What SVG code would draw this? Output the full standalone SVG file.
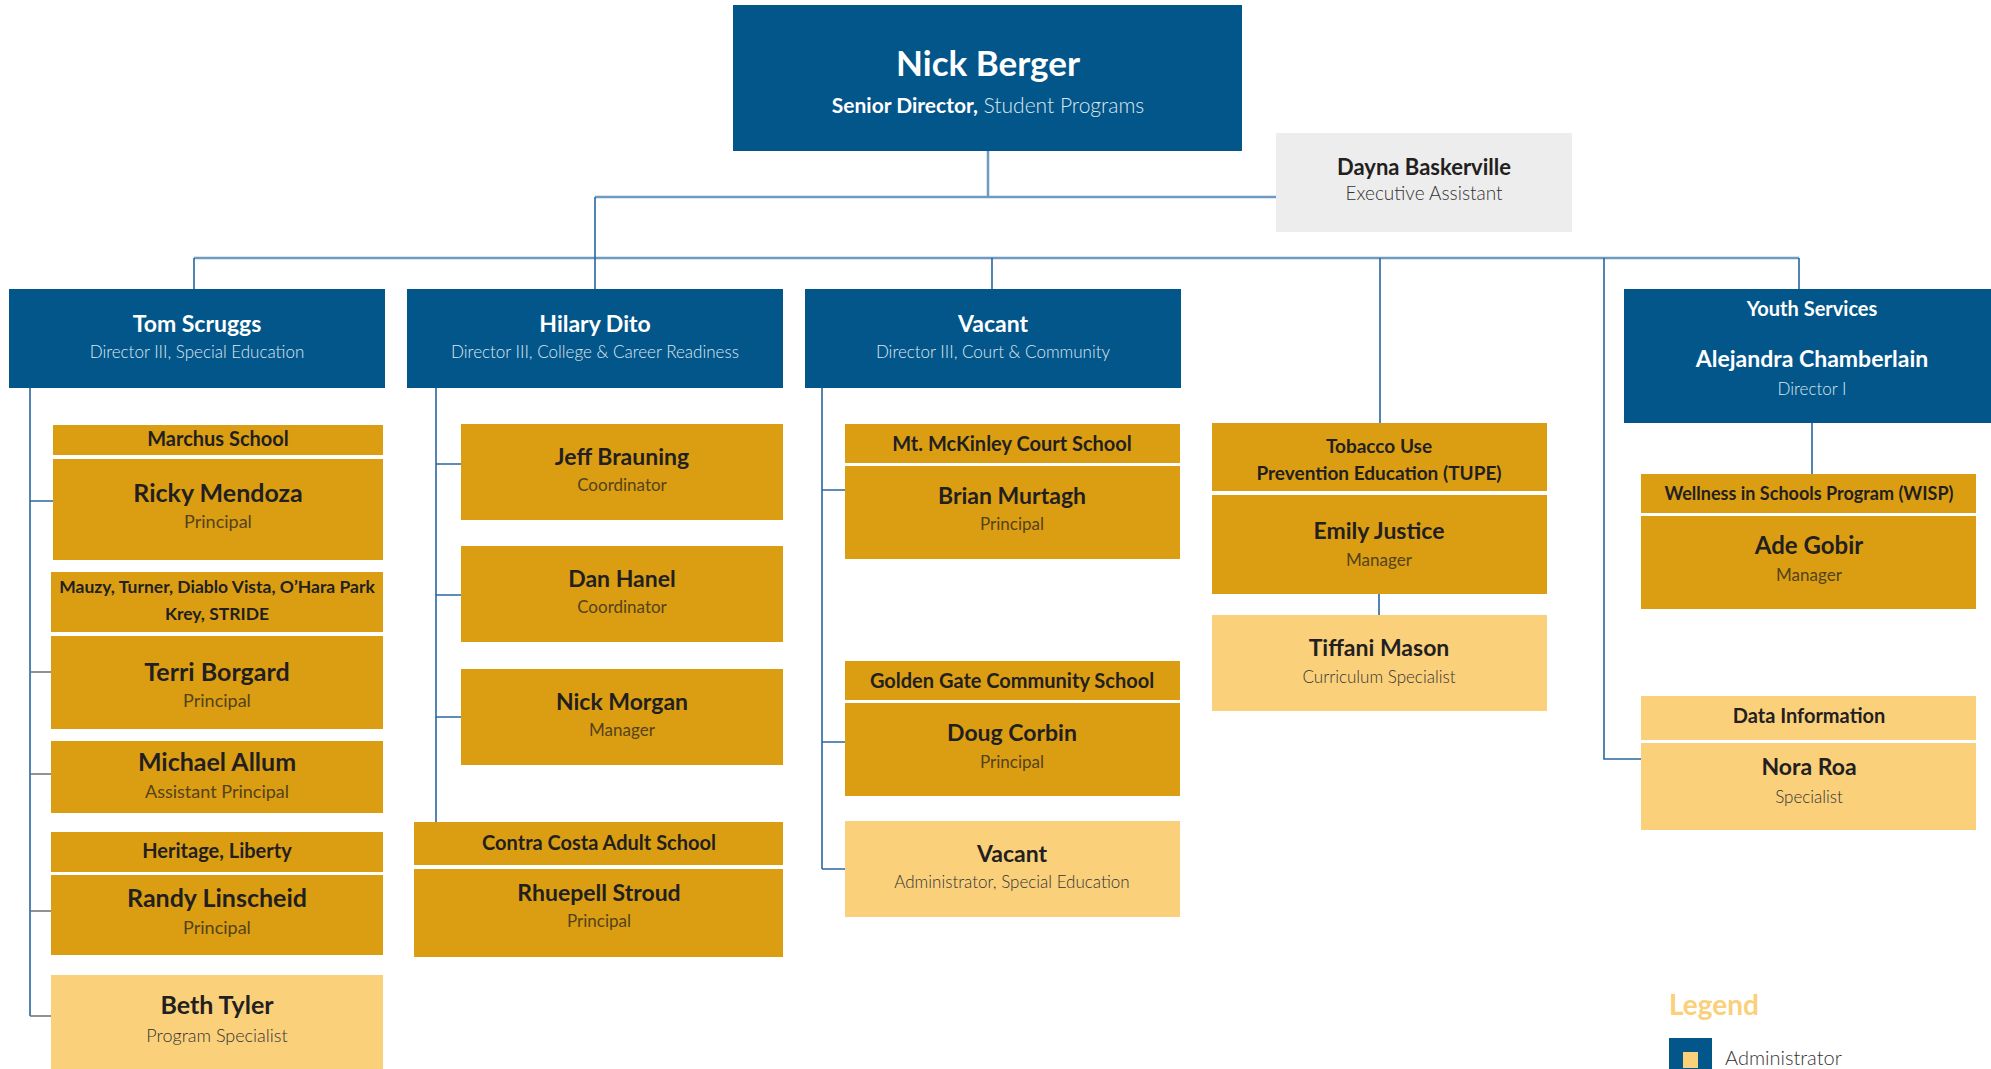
<svg xmlns="http://www.w3.org/2000/svg" width="1991" height="1069" viewBox="0 0 1991 1069">
<style>
.adm{fill:#03568A}
.gold{fill:#DB9E12}
.lite{fill:#FAD07B}
.gray{fill:#EDEDED}
.bus{stroke:#6E9BBF;stroke-width:2.5;fill:none}
.ln{stroke:#2767A0;stroke-width:1.6;fill:none}
.lg{stroke:#6f6f6f;stroke-width:1.6;fill:none}
text{font-family:Lato,"Open Sans","Liberation Sans",sans-serif;text-anchor:middle}
.wn{fill:#fff;font-weight:700}
.wt{fill:#DDE7F0;font-weight:300}
.dn{fill:#231F20;font-weight:700}
.dh{fill:#231F20;font-weight:700}
.dt{fill:#54421A;font-weight:400}
.lt{fill:#333333;font-weight:300}
</style>

<g id="connectors">
  <path class="bus" d="M988,151 V197 M595,197 H1276 M194,258 H1799"/>
  <path class="ln" d="M595,197 V289 M194,258 V289 M992,258 V289 M1380,258 V423 M1799,258 V289 M1604,258 V759 H1641 M1812,423 V474 M1379,594 V615"/>
  <path class="ln" d="M30,388 V1016 M30,501 H53 M436,388 V822 M436,464 H461 M436,595 H461 M436,717 H461 M822,388 V869 M822,490 H845 M822,742 H845 M822,869 H845"/>
  <path class="lg" d="M30,672 H51 M30,774 H51 M30,911 H51 M30,1016 H51"/>
</g>

<g id="nick-berger">
  <rect class="adm" x="733" y="5" width="509" height="146"/>
  <text class="wn" x="988" y="76" font-size="35">Nick Berger</text>
  <text x="988" y="113" font-size="21" fill="#fff"><tspan font-weight="700">Senior Director,</tspan><tspan fill="#DDE7F0" font-weight="300"> Student Programs</tspan></text>
</g>

<g id="dayna-baskerville">
  <rect class="gray" x="1276" y="133" width="296" height="99"/>
  <text class="dn" x="1424" y="175" font-size="22">Dayna Baskerville</text>
  <text class="lt" x="1424" y="200" font-size="19">Executive Assistant</text>
</g>

<g id="tom-scruggs">
  <rect class="adm" x="9" y="289" width="376" height="99"/>
  <text class="wn" x="197" y="332" font-size="23">Tom Scruggs</text>
  <text class="wt" x="197" y="358" font-size="17">Director III, Special Education</text>
</g>

<g id="hilary-dito">
  <rect class="adm" x="407" y="289" width="376" height="99"/>
  <text class="wn" x="595" y="332" font-size="23">Hilary Dito</text>
  <text class="wt" x="595" y="358" font-size="17">Director III, College &amp; Career Readiness</text>
</g>

<g id="vacant-director">
  <rect class="adm" x="805" y="289" width="376" height="99"/>
  <text class="wn" x="993" y="332" font-size="23">Vacant</text>
  <text class="wt" x="993" y="358" font-size="17">Director III, Court &amp; Community</text>
</g>

<g id="youth-services">
  <rect class="adm" x="1624" y="289" width="367" height="134"/>
  <text class="wn" x="1812" y="316" font-size="20">Youth Services</text>
  <text class="wn" x="1812" y="367" font-size="23">Alejandra Chamberlain</text>
  <text class="wt" x="1812" y="395" font-size="17">Director I</text>
</g>

<g id="ricky-mendoza">
  <rect class="gold" x="53" y="425" width="330" height="30"/>
  <text class="dh" x="218" y="446" font-size="20">Marchus School</text>
  <rect class="gold" x="53" y="459" width="330" height="101"/>
  <text class="dn" x="218" y="502" font-size="25">Ricky Mendoza</text>
  <text class="dt" x="218" y="528" font-size="18">Principal</text>
</g>

<g id="terri-borgard">
  <rect class="gold" x="51" y="572" width="332" height="60"/>
  <text class="dh" x="217" y="593" font-size="17.5">Mauzy, Turner, Diablo Vista, O’Hara Park</text>
  <text class="dh" x="217" y="620" font-size="17.5">Krey, STRIDE</text>
  <rect class="gold" x="51" y="636" width="332" height="93"/>
  <text class="dn" x="217" y="681" font-size="25">Terri Borgard</text>
  <text class="dt" x="217" y="707" font-size="18">Principal</text>
</g>

<g id="michael-allum">
  <rect class="gold" x="51" y="741" width="332" height="72"/>
  <text class="dn" x="217" y="771" font-size="25">Michael Allum</text>
  <text class="dt" x="217" y="798" font-size="18">Assistant Principal</text>
</g>

<g id="randy-linscheid">
  <rect class="gold" x="51" y="832" width="332" height="40"/>
  <text class="dh" x="217" y="858" font-size="20">Heritage, Liberty</text>
  <rect class="gold" x="51" y="875" width="332" height="80"/>
  <text class="dn" x="217" y="907" font-size="25">Randy Linscheid</text>
  <text class="dt" x="217" y="934" font-size="18">Principal</text>
</g>

<g id="beth-tyler">
  <rect class="lite" x="51" y="975" width="332" height="94"/>
  <text class="dn" x="217" y="1014" font-size="25">Beth Tyler</text>
  <text class="lt" x="217" y="1042" font-size="18">Program Specialist</text>
</g>

<g id="jeff-brauning">
  <rect class="gold" x="461" y="424" width="322" height="96"/>
  <text class="dn" x="622" y="465" font-size="23">Jeff Brauning</text>
  <text class="dt" x="622" y="491" font-size="17">Coordinator</text>
</g>

<g id="dan-hanel">
  <rect class="gold" x="461" y="546" width="322" height="96"/>
  <text class="dn" x="622" y="587" font-size="23">Dan Hanel</text>
  <text class="dt" x="622" y="613" font-size="17">Coordinator</text>
</g>

<g id="nick-morgan">
  <rect class="gold" x="461" y="669" width="322" height="96"/>
  <text class="dn" x="622" y="710" font-size="23">Nick Morgan</text>
  <text class="dt" x="622" y="736" font-size="17">Manager</text>
</g>

<g id="rhuepell-stroud">
  <rect class="gold" x="414" y="822" width="369" height="43"/>
  <text class="dh" x="599" y="850" font-size="20">Contra Costa Adult School</text>
  <rect class="gold" x="414" y="869" width="369" height="88"/>
  <text class="dn" x="599" y="901" font-size="23">Rhuepell Stroud</text>
  <text class="dt" x="599" y="927" font-size="17">Principal</text>
</g>

<g id="brian-murtagh">
  <rect class="gold" x="845" y="424" width="335" height="39"/>
  <text class="dh" x="1012" y="451" font-size="20">Mt. McKinley Court School</text>
  <rect class="gold" x="845" y="466" width="335" height="93"/>
  <text class="dn" x="1012" y="504" font-size="23">Brian Murtagh</text>
  <text class="dt" x="1012" y="530" font-size="17">Principal</text>
</g>

<g id="doug-corbin">
  <rect class="gold" x="845" y="661" width="335" height="39"/>
  <text class="dh" x="1012" y="688" font-size="20">Golden Gate Community School</text>
  <rect class="gold" x="845" y="703" width="335" height="93"/>
  <text class="dn" x="1012" y="741" font-size="23">Doug Corbin</text>
  <text class="dt" x="1012" y="768" font-size="17">Principal</text>
</g>

<g id="vacant-administrator">
  <rect class="lite" x="845" y="821" width="335" height="96"/>
  <text class="dn" x="1012" y="862" font-size="23">Vacant</text>
  <text class="lt" x="1012" y="888" font-size="17">Administrator, Special Education</text>
</g>

<g id="emily-justice">
  <rect class="gold" x="1212" y="423" width="335" height="68"/>
  <text class="dh" x="1379" y="453" font-size="19">Tobacco Use</text>
  <text class="dh" x="1379" y="480" font-size="19">Prevention Education (TUPE)</text>
  <rect class="gold" x="1212" y="495" width="335" height="99"/>
  <text class="dn" x="1379" y="539" font-size="23">Emily Justice</text>
  <text class="dt" x="1379" y="566" font-size="17">Manager</text>
</g>

<g id="tiffani-mason">
  <rect class="lite" x="1212" y="615" width="335" height="96"/>
  <text class="dn" x="1379" y="656" font-size="23">Tiffani Mason</text>
  <text class="lt" x="1379" y="683" font-size="17">Curriculum Specialist</text>
</g>

<g id="ade-gobir">
  <rect class="gold" x="1641" y="474" width="335" height="39"/>
  <text class="dh" x="1809" y="500" font-size="18">Wellness in Schools Program (WISP)</text>
  <rect class="gold" x="1641" y="516" width="335" height="93"/>
  <text class="dn" x="1809" y="554" font-size="24">Ade Gobir</text>
  <text class="dt" x="1809" y="581" font-size="17">Manager</text>
</g>

<g id="nora-roa">
  <rect class="lite" x="1641" y="696" width="335" height="44"/>
  <text class="dh" x="1809" y="723" font-size="20">Data Information</text>
  <rect class="lite" x="1641" y="743" width="335" height="87"/>
  <text class="dn" x="1809" y="775" font-size="23">Nora Roa</text>
  <text class="lt" x="1809" y="803" font-size="17">Specialist</text>
</g>

<g id="legend">
  <text x="1669" y="1015" font-size="28" font-weight="700" fill="#FAD07B" style="text-anchor:start">Legend</text>
  <rect class="adm" x="1669" y="1038" width="43" height="43"/>
  <rect class="lite" x="1683" y="1052" width="15" height="16"/>
  <text x="1725" y="1065" font-size="20" fill="#333" font-weight="300" style="text-anchor:start">Administrator</text>
</g>
</svg>
